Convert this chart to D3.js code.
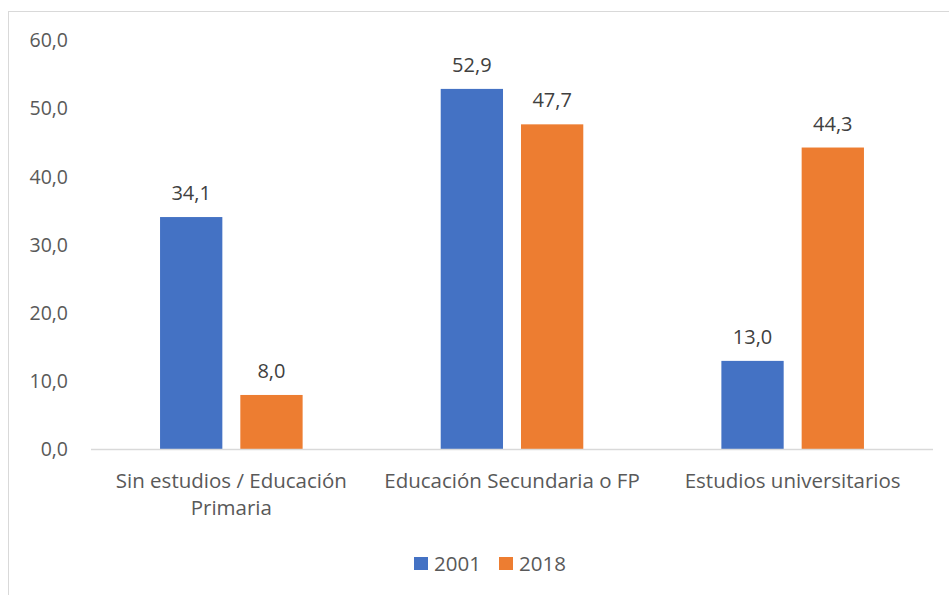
<!DOCTYPE html>
<html>
<head>
<meta charset="utf-8">
<script src="https://cdn.jsdelivr.net/npm/d3@7"></script>
<style>
  body { margin: 0; background: #fff; }
  svg { display: block; font-family: "Open Sans", "Noto Sans", sans-serif; }
</style>
</head>
<body>
<svg width="949" height="595"></svg>
<script>
const categories = [
  ['Sin estudios / Educación', 'Primaria'],
  ['Educación Secundaria o FP'],
  ['Estudios universitarios']
];
const series = ['2001', '2018'];
const values2001 = [34.1, 52.9, 13.0];
const values2018 = [8.0, 47.7, 44.3];
const yTicks = [0, 10, 20, 30, 40, 50, 60];

const colors = { '2001': '#4472C4', '2018': '#ED7D31' };
const seriesValues = { '2001': values2001, '2018': values2018 };

const svg = d3.select('svg');
const fmt = v => d3.format('.1f')(v).replace('.', ',');

// chart border
svg.append('rect')
  .attr('x', 8.5).attr('y', 11.5)
  .attr('width', 960).attr('height', 600)
  .attr('fill', 'none').attr('stroke', '#D9D9D9');

const plot = { left: 91, right: 933, top: 40.5, bottom: 449.5 };

const x = d3.scaleBand()
  .domain(d3.range(categories.length))
  .range([plot.left, plot.right]);

const bw = x.bandwidth();
const x1 = d3.scaleBand()
  .domain(series)
  .range([bw * 0.246, bw * 0.754])
  .paddingInner(0.224);

const y = d3.scaleLinear().domain([0, 60]).range([plot.bottom, plot.top]);

// y tick labels
svg.append('g').selectAll('text')
  .data(yTicks)
  .join('text')
  .attr('x', 68)
  .attr('y', d => y(d))
  .attr('dy', '0.35em')
  .attr('text-anchor', 'end')
  .attr('fill', '#595959')
  .style('font-size', '19.5px')
  .text(fmt);

// bars
const groups = svg.append('g').selectAll('g')
  .data(categories.map((c, i) => i))
  .join('g')
  .attr('transform', i => `translate(${x(i)},0)`);

groups.selectAll('rect')
  .data(i => series.map(s => ({ s, v: seriesValues[s][i] })))
  .join('rect')
  .attr('x', d => x1(d.s))
  .attr('width', x1.bandwidth())
  .attr('y', d => y(d.v))
  .attr('height', d => y(0) - y(d.v))
  .attr('fill', d => colors[d.s]);

groups.selectAll('text.val')
  .data(i => series.map(s => ({ s, v: seriesValues[s][i] })))
  .join('text')
  .attr('class', 'val')
  .attr('x', d => x1(d.s) + x1.bandwidth() / 2)
  .attr('y', d => y(d.v) - 17)
  .attr('text-anchor', 'middle')
  .attr('fill', '#404040')
  .style('font-size', '20px')
  .text(d => fmt(d.v));

// baseline
svg.append('line')
  .attr('x1', plot.left).attr('x2', plot.right)
  .attr('y1', y(0)).attr('y2', y(0))
  .attr('stroke', '#D9D9D9').attr('stroke-width', 1.3);

// category labels
const catText = svg.append('g').selectAll('text')
  .data(categories)
  .join('text')
  .attr('x', (d, i) => x(i) + bw / 2)
  .attr('y', 488)
  .attr('text-anchor', 'middle')
  .attr('fill', '#595959')
  .style('font-size', '20.5px');

catText.selectAll('tspan')
  .data(d => d)
  .join('tspan')
  .attr('x', function () { return this.parentNode.getAttribute('x'); })
  .attr('dy', (d, i) => i ? 27 : 0)
  .text(d => d);

// legend
const legend = svg.append('g');
const legendX = [414, 499];
series.forEach((s, i) => {
  legend.append('rect')
    .attr('x', legendX[i]).attr('y', 557)
    .attr('width', 14).attr('height', 13)
    .attr('fill', colors[s]);
  legend.append('text')
    .attr('x', legendX[i] + 20).attr('y', 563.5)
    .attr('dy', '0.35em')
    .attr('fill', '#595959')
    .style('font-size', '20.5px')
    .text(s);
});
</script>
</body>
</html>
